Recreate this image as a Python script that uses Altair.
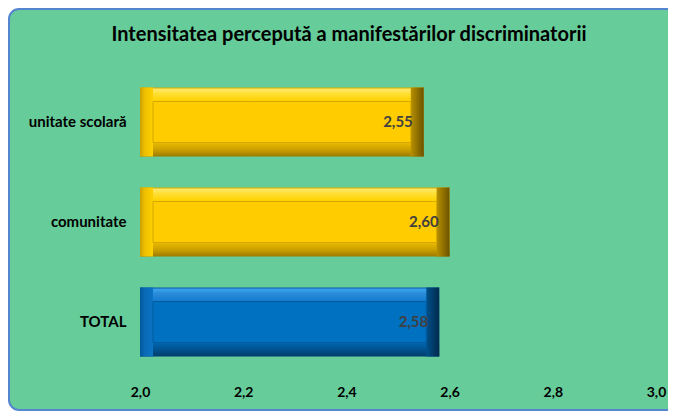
import altair as alt
import pandas as pd

categories = ["unitate scolară", "comunitate", "TOTAL"]
values = [2.55, 2.60, 2.58]
x_ticks = [2.0, 2.2, 2.4, 2.6, 2.8, 3.0]
title_text = "Intensitatea percepută a manifestărilor discriminatorii"

FONT = "Lato"

df = pd.DataFrame({"cat": categories, "value": values})
base = alt.Chart(df).transform_calculate(
    label="replace(format(datum.value, '.2f'), '.', ',')",
    start="2.0",
)

x_scale = alt.Scale(domain=[2.0, 3.0], nice=False, zero=False)
x_axis = alt.Axis(
    values=x_ticks,
    labelExpr="replace(format(datum.value, '.1f'), '.', ',')",
    title=None, domain=False, ticks=False, grid=False, zindex=2,
    labelFont=FONT, labelFontSize=14, labelFontWeight="bold",
    labelColor="#000000", labelPadding=13, labelFlush=False,
)
y_enc = alt.Y(
    "cat:N", sort=categories,
    scale=alt.Scale(paddingInner=0, paddingOuter=0),
    axis=alt.Axis(title=None, domain=False, ticks=False, labelPadding=14, zindex=2,
                  labelFont=FONT, labelFontSize=15, labelFontWeight="bold",
                  labelColor="#000000"),
)
x_val = alt.X("value:Q", scale=x_scale, axis=x_axis)
x_start = alt.X("start:Q", scale=x_scale, axis=x_axis)


def grad(stops, horizontal=False):
    return alt.LinearGradient(
        gradient="linear",
        x1=0, y1=0,
        x2=1 if horizontal else 0,
        y2=0 if horizontal else 1,
        stops=[alt.GradientStop(offset=o, color=c) for o, c in stops],
    )


def bevel(filt, pal):
    d = base.transform_filter(filt)
    outer = d.mark_bar(size=69, fill=grad(pal["outer"])).encode(
        x=x_val, x2="start:Q", y=y_enc)
    right = d.mark_bar(size=69, xOffset=-13, fill=grad(pal["right"], True)).encode(
        x=x_val, x2="value:Q", y=y_enc)
    left = d.mark_bar(size=69, x2Offset=13, fill=grad(pal["left"], True)).encode(
        x=x_start, x2="start:Q", y=y_enc)
    inner = d.mark_bar(size=41, xOffset=13, x2Offset=-13, fill=pal["fill"],
                       stroke=pal["line"], strokeWidth=1).encode(
        x=x_start, x2="value:Q", y=y_enc)
    return [outer, right, left, inner]


yellow = {
    "outer": [(0, "#D9AE00"), (0.03, "#FFE866"), (0.08, "#FFE03A"), (0.19, "#FFD200"),
              (0.5, "#FFCC00"), (0.81, "#E6B800"), (0.9, "#CCA000"), (1, "#9C7A00")],
    "right": [(0, "#B89000"), (1, "#6B5200")],
    "left": [(0, "#C9A000"), (0.35, "#EDBE00"), (1, "#FFD000")],
    "fill": "#FFCC00",
    "line": "#D4A800",
}
blue = {
    "outer": [(0, "#0A5A9C"), (0.03, "#3AA2EE"), (0.08, "#2B8EDB"), (0.19, "#157CD0"),
              (0.5, "#0070C0"), (0.81, "#0064AE"), (0.9, "#00528F"), (1, "#003C6C")],
    "right": [(0, "#00508A"), (1, "#002A4D")],
    "left": [(0, "#00589A"), (0.35, "#0A6AB6"), (1, "#0A74C4")],
    "fill": "#0070C0",
    "line": "#005C9E",
}

frame = alt.Chart(alt.Data(values=[{"k": 1}])).mark_rect(
    cornerRadius=10, fill="#66CC99", stroke="#5585D0", strokeWidth=2
).encode(x=alt.value(-131), x2=alt.value(560), y=alt.value(-63), y2=alt.value(338))

labels = base.mark_text(
    align="right", baseline="middle", dx=-11, font=FONT, fontSize=15,
    fontWeight="bold", color="#404040"
).encode(x=x_val, y=y_enc, text="label:N")

layers = [frame] + bevel(alt.datum.cat != "TOTAL", yellow) + bevel(alt.datum.cat == "TOTAL", blue) + [labels]

chart = alt.layer(*layers).properties(
    width=516, height=300, background="white",
    autosize=alt.AutoSizeParams(type="none"),
    padding={"left": 132, "top": 64, "right": 12, "bottom": 40},
    title=alt.TitleParams(text=title_text, font=FONT, fontSize=20, fontWeight="bold",
                          color="#000000", anchor="middle", dx=-49, offset=-53,
                          baseline="alphabetic", zindex=2),
).configure_view(stroke=None)

chart.save("out.html", embed_options={"renderer": "svg", "actions": False})
